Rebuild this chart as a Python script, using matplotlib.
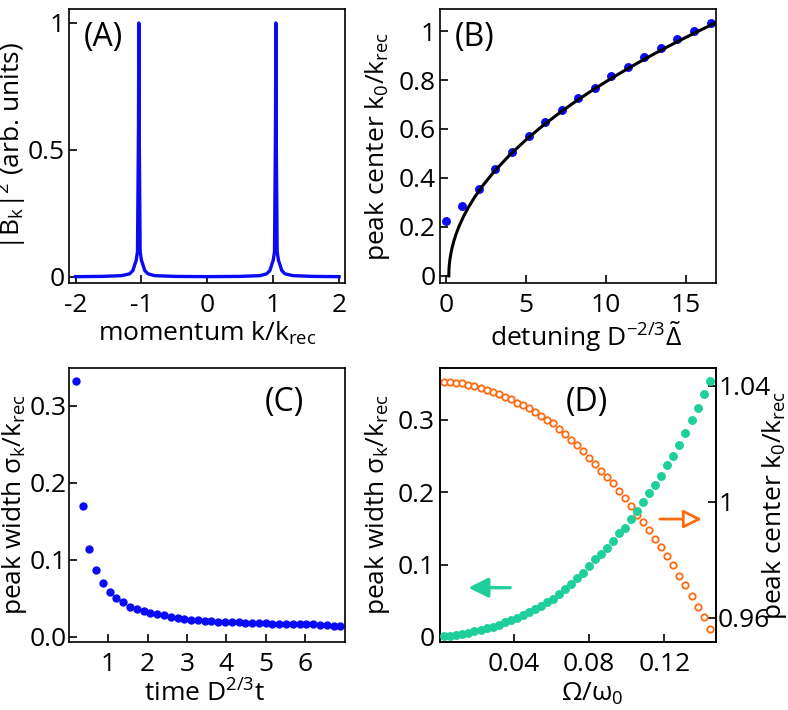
import numpy as np
import matplotlib
matplotlib.use('Agg')
import matplotlib.pyplot as plt
from matplotlib.ticker import FixedLocator, FixedFormatter

plt.rcParams['font.family'] = ['Open Sans', 'DejaVu Sans']
plt.rcParams['mathtext.fontset'] = 'custom'
plt.rcParams['mathtext.rm'] = 'Open Sans'
plt.rcParams['mathtext.it'] = 'Open Sans'
plt.rcParams['mathtext.bf'] = 'Open Sans:bold'
plt.rcParams['axes.unicode_minus'] = False
plt.rcParams['font.size'] = 19

blue = '#0a0af5'
green = '#1ecf9c'
orange = '#ff6a10'

# (A) momentum distribution
k_a = [-2.0, -1.6, -1.3, -1.18, -1.13, -1.10, -1.08, -1.06, -1.045, -1.04, -1.035, -1.02, -1.0,
       -0.98, -0.95, -0.9, -0.8, -0.5, 0.0, 0.5, 0.8, 0.9, 0.95, 0.98, 1.0, 1.02, 1.035, 1.04,
       1.045, 1.06, 1.08, 1.10, 1.13, 1.18, 1.3, 1.6, 2.0]
b_a = [0.001, 0.002, 0.005, 0.012, 0.025, 0.05, 0.065, 0.1, 0.6, 1.0, 0.6, 0.1, 0.065,
       0.05, 0.025, 0.012, 0.005, 0.002, 0.001, 0.002, 0.005, 0.012, 0.025, 0.05, 0.065, 0.1, 0.6, 1.0,
       0.6, 0.1, 0.065, 0.05, 0.025, 0.012, 0.005, 0.002, 0.001]

# (B) peak center vs detuning
det_b = [0.0, 1.04, 2.07, 3.11, 4.14, 5.18, 6.21, 7.25, 8.28, 9.32, 10.35, 11.39, 12.42,
         13.46, 14.49, 15.53, 16.56]
k0_b = [0.226, 0.284, 0.356, 0.438, 0.507, 0.570, 0.627, 0.678, 0.725, 0.769, 0.815, 0.854,
        0.893, 0.932, 0.967, 1.000, 1.031]
det_fit = [0.19, 0.20, 0.22, 0.26, 0.32, 0.40, 0.50, 0.65, 0.85, 1.1, 1.4, 1.8, 2.3, 3.0, 4.0,
           5.0, 6.0, 7.0, 8.0, 9.0, 10.0, 11.0, 12.0, 13.0, 14.0, 15.0, 16.0, 16.9]
k0_fit = [0.0, 0.0253, 0.0438, 0.0669, 0.0912, 0.1159, 0.1409, 0.1716, 0.2055, 0.2413, 0.2783,
          0.3210, 0.3675, 0.4241, 0.4938, 0.5549, 0.6098, 0.6602, 0.7070, 0.7510, 0.7924,
          0.8318, 0.8695, 0.9055, 0.9402, 0.9736, 1.0060, 1.0345]

# (C) peak width vs time
t_c = np.linspace(0.1725, 6.9, 40)
w_c = [0.332, 0.170, 0.114, 0.087, 0.070, 0.058, 0.050, 0.045, 0.039, 0.036,
       0.033, 0.031, 0.029, 0.028, 0.026, 0.024, 0.023, 0.022, 0.021, 0.020,
       0.020, 0.0195, 0.019, 0.019, 0.0185, 0.018, 0.018, 0.0175, 0.0175, 0.017,
       0.017, 0.0168, 0.0165, 0.0163, 0.016, 0.016, 0.0155, 0.015, 0.014, 0.0134]

# (D) width and center vs Omega
om_d = np.linspace(0.0032, 0.144, 45)
w_d = [0.001, 0.001, 0.002, 0.004, 0.006, 0.008, 0.009, 0.012, 0.014, 0.017,
       0.020, 0.023, 0.026, 0.030, 0.035, 0.038, 0.043, 0.048, 0.053, 0.059,
       0.066, 0.073, 0.082, 0.089, 0.098, 0.107, 0.114, 0.123, 0.133, 0.143,
       0.151, 0.163, 0.174, 0.186, 0.199, 0.210, 0.223, 0.237, 0.250, 0.265,
       0.282, 0.299, 0.316, 0.335, 0.354]
k0_d = [1.0413, 1.0413, 1.0410, 1.0409, 1.0403, 1.0398, 1.0392, 1.0385, 1.0379, 1.0372,
        1.0361, 1.0353, 1.0342, 1.0332, 1.0323, 1.0309, 1.0296, 1.0282, 1.0270, 1.0251,
        1.0232, 1.0214, 1.0196, 1.0176, 1.0152, 1.0131, 1.0107, 1.0085, 1.0063, 1.0038,
        1.0013, 0.9985, 0.9954, 0.9930, 0.9902, 0.9871, 0.9844, 0.9812, 0.9780, 0.9743,
        0.9711, 0.9675, 0.9638, 0.9602, 0.9562]

W, H = 788, 710
fig = plt.figure(figsize=(7.88, 7.1), dpi=100)

def make_ax(x0, x1, y0, y1):
    return fig.add_axes([x0 / W, 1 - y1 / H, (x1 - x0) / W, (y1 - y0) / H])

def style(ax):
    ax.tick_params(direction='in', length=6, width=1.2, pad=7, labelsize=19)
    for s in ax.spines.values():
        s.set_linewidth(1.2)

def set_ticks(axis, vals, labels):
    axis.set_major_locator(FixedLocator(vals))
    axis.set_major_formatter(FixedFormatter(labels))

ax1 = make_ax(69, 345, 9, 283)
ax2 = make_ax(440, 716, 9, 283)
ax3 = make_ax(69, 345, 368, 642)
ax4 = make_ax(440, 716, 368, 642)
for a in (ax1, ax2, ax3, ax4):
    style(a)

# (A)
ax1.plot(k_a, b_a, color=blue, lw=2.4)
ax1.set_xlim(-2.1, 2.09)
ax1.set_ylim(-0.024, 1.055)
set_ticks(ax1.xaxis, [-2, -1, 0, 1, 2], ['-2', '-1', '0', '1', '2'])
set_ticks(ax1.yaxis, [0, 0.5, 1], ['0', '0.5', '1'])
ax1.tick_params(axis='y', pad=3)
ax1.set_xlabel('momentum k/k$_{\\mathrm{rec}}$')
ax1.set_ylabel('|B$_{\\mathrm{k}}$|$^{2}$ (arb. units)')
ax1.xaxis.set_label_coords(0.5, -0.135)
ax1.yaxis.set_label_coords(-0.145, 0.5)
ax1.text(0.055, 0.955, '(A)', transform=ax1.transAxes, ha='left', va='top', fontsize=23)

# (B)
ax2.plot(det_fit, k0_fit, color='black', lw=2.2, zorder=3)
ax2.plot(det_b, k0_b, 'o', color=blue, ms=5.4, zorder=2)
ax2.set_xlim(-0.36, 16.9)
ax2.set_ylim(-0.029, 1.09)
set_ticks(ax2.xaxis, [0, 5, 10, 15], ['0', '5', '10', '15'])
set_ticks(ax2.yaxis, [0, 0.2, 0.4, 0.6, 0.8, 1], ['0', '0.2', '0.4', '0.6', '0.8', '1'])
ax2.tick_params(axis='y', pad=3)
ax2.set_xlabel('detuning D$^{-2/3}\\tilde{\\Delta}$')
ax2.set_ylabel('peak center k$_{0}$/k$_{\\mathrm{rec}}$')
ax2.xaxis.set_label_coords(0.53, -0.135)
ax2.yaxis.set_label_coords(-0.175, 0.5)
ax2.text(0.055, 0.955, '(B)', transform=ax2.transAxes, ha='left', va='top', fontsize=23)

# (C)
ax3.plot(t_c, w_c, 'o', color=blue, ms=5.0)
ax3.set_xlim(0, 7.02)
ax3.set_ylim(-0.007, 0.349)
set_ticks(ax3.xaxis, [1, 2, 3, 4, 5, 6], ['1', '2', '3', '4', '5', '6'])
set_ticks(ax3.yaxis, [0, 0.1, 0.2, 0.3], ['0.0', '0.1', '0.2', '0.3'])
ax3.tick_params(axis='y', pad=1.5)
ax3.set_xlabel('time D$^{2/3}$t')
ax3.set_ylabel('peak width σ$_{\\mathrm{k}}$/k$_{\\mathrm{rec}}$')
ax3.xaxis.set_label_coords(0.49, -0.14)
ax3.yaxis.set_label_coords(-0.145, 0.5)
ax3.text(0.71, 0.935, '(C)', transform=ax3.transAxes, ha='left', va='top', fontsize=23)

# (D)
ax4r = ax4.twinx()
style(ax4r)
ax4.plot(om_d, w_d, 'o', color=green, ms=5.4, zorder=3)
ax4r.plot(om_d, k0_d, 'o', mfc='white', mec=orange, mew=1.3, ms=4.6, zorder=2)
ax4.set_zorder(ax4r.get_zorder() + 1)
ax4.patch.set_visible(False)
ax4.set_xlim(0.0009, 0.1474)
ax4.set_ylim(-0.007, 0.3715)
ax4r.set_ylim(0.9516, 1.0461)
set_ticks(ax4.xaxis, [0.04, 0.08, 0.12], ['0.04', '0.08', '0.12'])
set_ticks(ax4.yaxis, [0, 0.1, 0.2, 0.3], ['0', '0.1', '0.2', '0.3'])
set_ticks(ax4r.yaxis, [0.96, 1, 1.04], ['0.96', '1', '1.04'])
ax4.tick_params(axis='y', pad=4)
ax4r.tick_params(pad=1.5)
ax4.set_xlabel('Ω/ω$_{0}$')
ax4.set_ylabel('peak width σ$_{\\mathrm{k}}$/k$_{\\mathrm{rec}}$')
ax4r.set_ylabel('peak center k$_{0}$/k$_{\\mathrm{rec}}$')
ax4.xaxis.set_label_coords(0.55, -0.14)
ax4.yaxis.set_label_coords(-0.175, 0.5)
ax4r.yaxis.set_label_coords(1.16, 0.5)
ax4.text(0.455, 0.935, '(D)', transform=ax4.transAxes, ha='left', va='top', fontsize=23)

ax4.annotate('', xy=(0.0145, 0.068), xytext=(0.0396, 0.068),
             arrowprops=dict(arrowstyle='-|>', color=green, lw=2.4, mutation_scale=30))
ax4r.annotate('', xy=(0.1414, 0.994), xytext=(0.1161, 0.994),
              arrowprops=dict(arrowstyle='-|>', fc='white', ec=orange, lw=2.0, mutation_scale=28))

fig.savefig('out.png', dpi=100)
